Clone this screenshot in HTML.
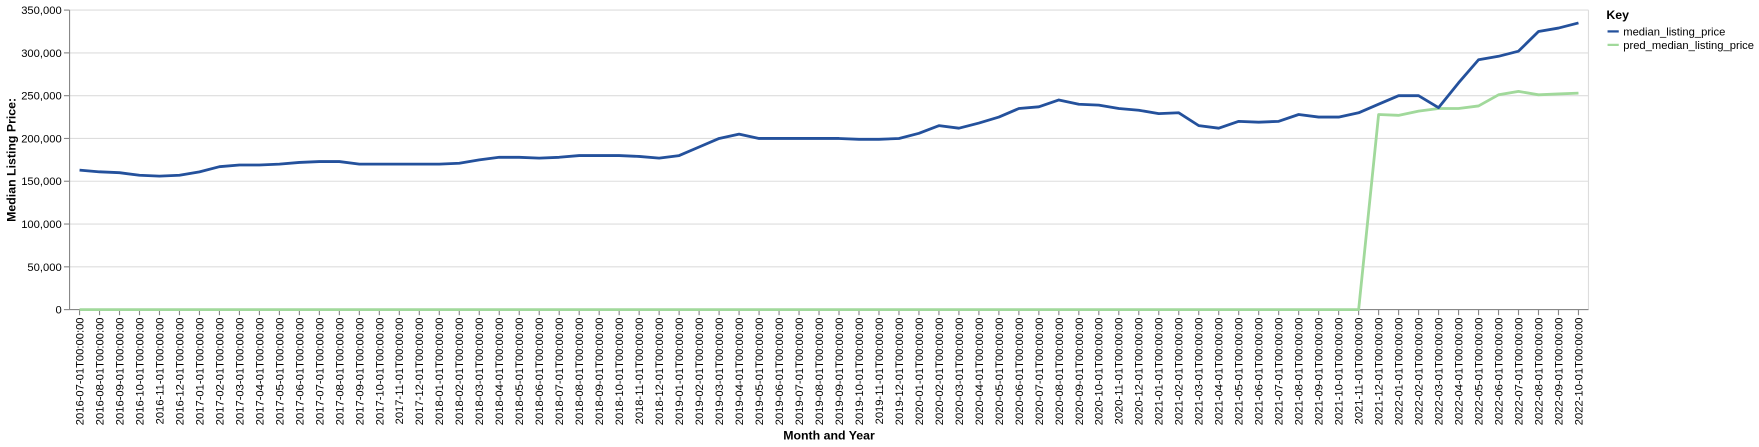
<!DOCTYPE html>
<html><head><meta charset="utf-8"><style>
html,body{margin:0;padding:0;background:#fff;}
svg{display:block;font-family:"Liberation Sans","DejaVu Sans",sans-serif;}
</style></head><body>
<svg id="chart" width="1759" height="447" viewBox="0 0 1759 447" xmlns="http://www.w3.org/2000/svg"><g id="root" transform="scale(1.1218)"></g></svg>
<script>
const months = [];
for (let y = 2016, m = 7; !(y === 2022 && m === 11); ) {
  months.push(y + '-' + String(m).padStart(2, '0') + '-01T00:00:00');
  m++; if (m > 12) { m = 1; y++; }
}
const medianPrice = [163000,161000,160000,157000,156000,157000,161000,167000,169000,169000,170000,172000,173000,173000,170000,170000,170000,170000,170000,171000,175000,178000,178000,177000,178000,180000,180000,180000,179000,177000,180000,190000,200000,205000,200000,200000,200000,200000,200000,199000,199000,200000,206000,215000,212000,218000,225000,235000,237000,245000,240000,239000,235000,233000,229000,230000,215000,212000,220000,219000,220000,228000,225000,225000,230000,240000,250000,250000,236000,265000,292000,296000,302000,325000,329000,335000];
const predPrice = [0,0,0,0,0,0,0,0,0,0,0,0,0,0,0,0,0,0,0,0,0,0,0,0,0,0,0,0,0,0,0,0,0,0,0,0,0,0,0,0,0,0,0,0,0,0,0,0,0,0,0,0,0,0,0,0,0,0,0,0,0,0,0,0,0,228000,227000,232000,235000,235000,238000,251000,255000,251000,252000,253000];
const yTicks = [0,50000,100000,150000,200000,250000,300000,350000];

const NS = 'http://www.w3.org/2000/svg';
const svg = document.getElementById('root');
const L = 62, R = 1416, T = 9, B = 276, YMAX = 350000;
const step = (R - L) / months.length;
const xs = i => L + step * (i + 0.5);
const ys = v => B - v / YMAX * (B - T);
function mk(tag, attrs, parent) {
  const e = document.createElementNS(NS, tag);
  for (const k in attrs) e.setAttribute(k, attrs[k]);
  (parent || svg).appendChild(e);
  return e;
}
yTicks.forEach(v => {
  const y = ys(v);
  const g = mk('line', {x1: L, x2: R, y1: y, y2: y, stroke: '#ddd', 'stroke-width': 1});
  
  
  mk('line', {x1: L - 5, x2: L, y1: y, y2: y, stroke: '#888'});
  const t = mk('text', {x: L - 7, y: y + 3.5, 'text-anchor': 'end', 'font-size': 10, fill: '#000'});
  t.textContent = v.toLocaleString('en-US');
  
  
});
mk('line', {x1: R, x2: R, y1: T, y2: B, stroke: '#ddd'});
mk('line', {x1: L, x2: L, y1: T, y2: B, stroke: '#888'});
mk('line', {x1: L, x2: R, y1: B, y2: B, stroke: '#888'});
months.forEach((m, i) => {
  const x = xs(i);
  mk('line', {x1: x, x2: x, y1: B, y2: B + 5, stroke: '#888'});
  const t = mk('text', {transform: `translate(${x + 3.5},${B + 7}) rotate(-90)`, 'text-anchor': 'end', 'font-size': 10, fill: '#000'});
  t.textContent = m;
  
  
});
function drawLine(vals, color, name) {
  const d = vals.map((v, i) => (i ? 'L' : 'M') + xs(i).toFixed(2) + ',' + ys(v).toFixed(2)).join('');
  const p = mk('path', {d, fill: 'none', stroke: color, 'stroke-width': 2.5, 'stroke-linejoin': 'round'});
  
  
}
drawLine(predPrice, '#a1d99b', 'pred-median-listing-price-line');
drawLine(medianPrice, '#24519c', 'median-listing-price-line');
const xt = mk('text', {x: (L + R) / 2, y: 392, 'text-anchor': 'middle', 'font-size': 11, 'font-weight': 'bold'});
xt.textContent = 'Month and Year';


const yt = mk('text', {transform: `translate(14,${(T + B) / 2}) rotate(-90)`, 'text-anchor': 'middle', 'font-size': 11, 'font-weight': 'bold'});
yt.textContent = 'Median Listing Price:';


const lg = mk('g', {});


const kt = mk('text', {x: 1432, y: 17, 'font-size': 11, 'font-weight': 'bold'}, lg);
kt.textContent = 'Key';


[['median_listing_price', '#24519c', 28], ['pred_median_listing_price', '#a1d99b', 40]].forEach(([n, c, y]) => {
  mk('line', {x1: 1433, x2: 1443, y1: y, y2: y, stroke: c, 'stroke-width': 2}, lg);
  const t = mk('text', {x: 1447, y: y + 3.5, 'font-size': 10}, lg);
  t.textContent = n;
  
  
});
</script>
</body></html>
